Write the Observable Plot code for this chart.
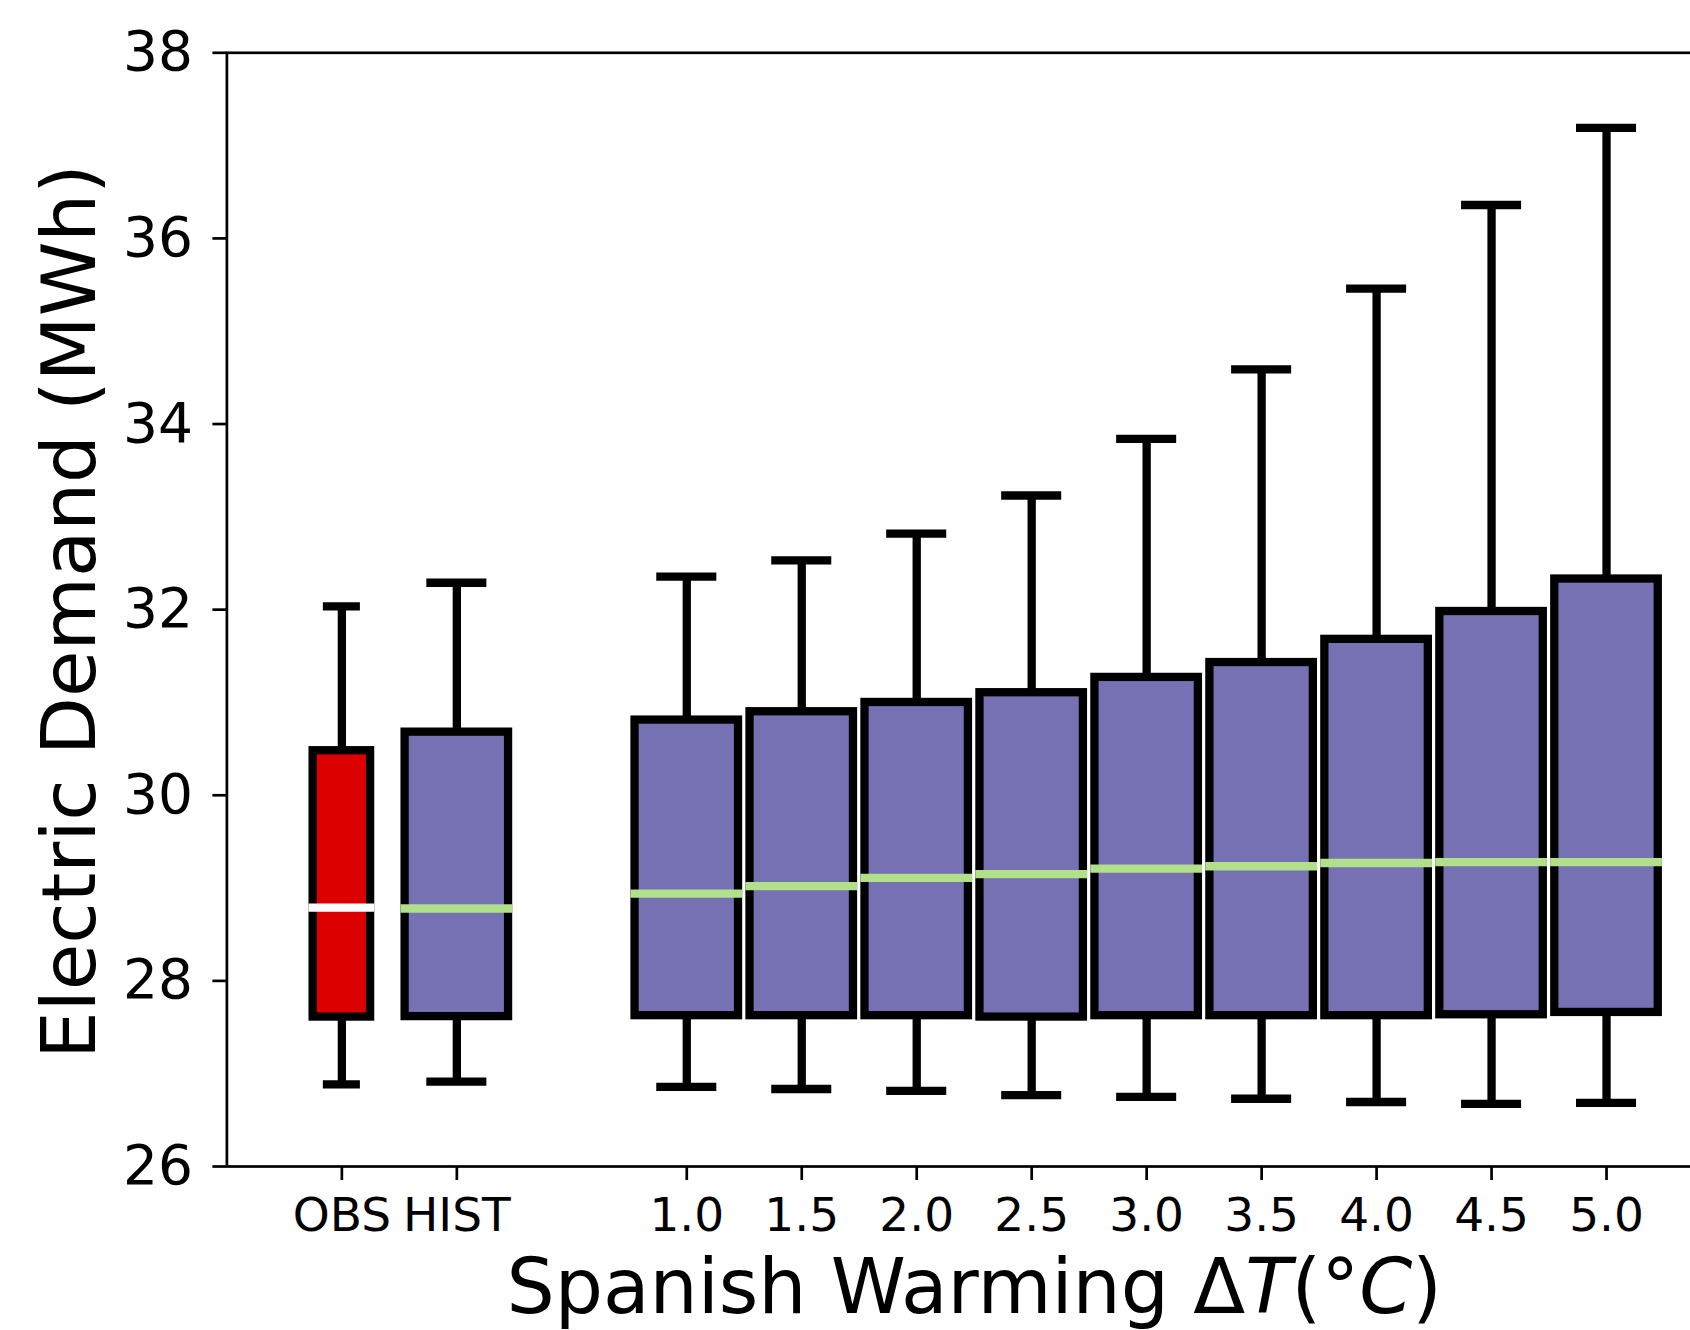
<!DOCTYPE html>
<html>
<head>
<meta charset="utf-8">
<script src="https://cdn.jsdelivr.net/npm/d3@7"></script>
<script src="https://cdn.jsdelivr.net/npm/@observablehq/plot@0.6"></script>
<style>
  html, body { margin: 0; padding: 0; background: #fff; overflow: hidden; }
  #wrap { width: 1690px; height: 1330px; overflow: hidden; position: relative; }
</style>
</head>
<body>
<div id="wrap"></div>
<script>
// ---- data ----
const categories  = ["OBS", "HIST", "1.0", "1.5", "2.0", "2.5", "3.0", "3.5", "4.0", "4.5", "5.0"];
const whiskerLow  = [26.885, 26.914, 26.857, 26.835, 26.814, 26.770, 26.750, 26.730, 26.695, 26.674, 26.685];
const quartile1   = [27.610, 27.615, 27.625, 27.625, 27.625, 27.610, 27.625, 27.625, 27.625, 27.635, 27.660];
const medianVals  = [28.790, 28.780, 28.940, 29.020, 29.110, 29.150, 29.210, 29.235, 29.270, 29.280, 29.280];
const quartile3   = [30.480, 30.680, 30.810, 30.900, 31.000, 31.105, 31.270, 31.430, 31.680, 31.980, 32.330];
const whiskerHigh = [32.035, 32.290, 32.355, 32.530, 32.820, 33.230, 33.840, 34.590, 35.460, 36.360, 37.190];
const yTicks = [26, 28, 30, 32, 34, 36, 38];
const yLabel = "Electric Demand (MWh)";
const xLabel = "Spanish Warming ΔT(°C)";

// ---- layout / styles ----
const LW = 8.3;
const position = (i) => (i < 2 ? i + 1 : i + 2);  // gap between HIST and warming levels
const rows = categories.map((c, i) => ({
  cat: c,
  pos: position(i),
  lo: whiskerLow[i],
  q1: quartile1[i],
  med: medianVals[i],
  q3: quartile3[i],
  hi: whiskerHigh[i],
  w: i === 0 ? 0.5 : 0.9,
  fill: i === 0 ? "#dd0000" : "#7571b3",
  medColor: i === 0 ? "#ffffff" : "#b2df8a"
}));
const tickPos = rows.map(d => d.pos);
const labelOf = new Map(rows.map(d => [d.pos, d.cat]));

const W = 1760, H = 1330;
const chart = Plot.plot({
  width: W,
  height: H,
  marginLeft: 226.4,
  marginRight: 39,
  marginTop: 52.3,
  marginBottom: 164,
  x: {domain: [0, 13]},
  y: {domain: [26, 38]},
  color: {type: "identity"},
  marks: [
    Plot.rect(rows, {
      x1: d => d.pos - d.w / 2, x2: d => d.pos + d.w / 2,
      y1: "q1", y2: "q3",
      fill: "fill", stroke: "#000", strokeWidth: LW
    }),
    Plot.ruleX(rows, {x: "pos", y1: "q3", y2: "hi", stroke: "#000", strokeWidth: LW}),
    Plot.ruleX(rows, {x: "pos", y1: "lo", y2: "q1", stroke: "#000", strokeWidth: LW}),
    Plot.ruleY(rows, {y: "hi", x1: d => d.pos - d.w / 4, x2: d => d.pos + d.w / 4,
      stroke: "#000", strokeWidth: LW, strokeLinecap: "square"}),
    Plot.ruleY(rows, {y: "lo", x1: d => d.pos - d.w / 4, x2: d => d.pos + d.w / 4,
      stroke: "#000", strokeWidth: LW, strokeLinecap: "square"}),
    Plot.ruleY(rows, {y: "med", x1: d => d.pos - d.w / 2, x2: d => d.pos + d.w / 2,
      stroke: "medColor", strokeWidth: LW, strokeLinecap: "square"}),
    Plot.frame({stroke: "#000", strokeWidth: 2.7}),
    Plot.axisY({ticks: yTicks, tickSize: 14, tickPadding: 20, fontSize: 55,
      strokeWidth: 2.7, label: null, tickFormat: d => String(d)}),
    Plot.axisX({ticks: tickPos, tickSize: 14, tickPadding: 17, fontSize: 47,
      strokeWidth: 2.7, label: null, tickFormat: d => labelOf.get(d)}),
    Plot.text([yLabel], {frameAnchor: "left", rotate: -90, dx: 94 - 226.4, dy: 2,
      textAnchor: "middle", lineAnchor: "bottom", fontSize: 75.5, fill: "#000"}),
    Plot.text([xLabel], {frameAnchor: "bottom", dy: 146,
      textAnchor: "middle", lineAnchor: "bottom", fontSize: 76, fill: "#000"})
  ]
});
chart.style.maxWidth = "none";
chart.style.fontFamily = "'DejaVu Sans', sans-serif";
chart.style.color = "#000";
chart.style.background = "#fff";

// math-style italics for T and C in the x label
d3.select(chart).selectAll("text").each(function () {
  if (this.textContent === xLabel) {
    const t = d3.select(this);
    t.text(null);
    t.append("tspan").text("Spanish Warming Δ");
    t.append("tspan").attr("font-style", "italic").text("T");
    t.append("tspan").text("(°");
    t.append("tspan").attr("font-style", "italic").text("C");
    t.append("tspan").text(")");
  }
});

document.getElementById("wrap").appendChild(chart);
</script>
</body>
</html>
